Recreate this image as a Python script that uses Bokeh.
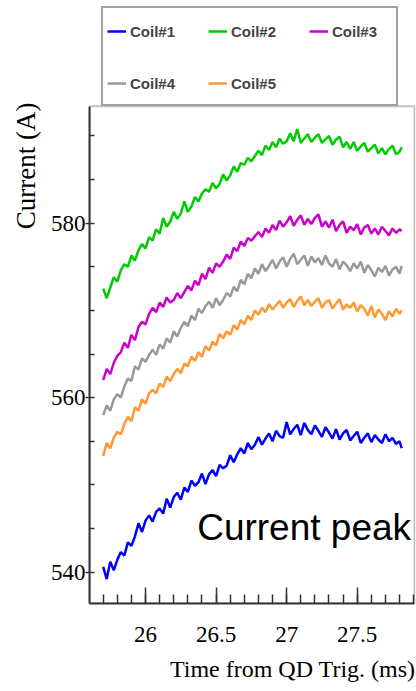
from bokeh.plotting import figure
from bokeh.models import Range1d, FixedTicker, Legend, LegendItem, Label, BoxAnnotation, Title
from bokeh.embed import file_html
from bokeh.resources import INLINE

# ---------------- data ----------------
time_ms = [25.700, 25.725, 25.750, 25.775, 25.800, 25.825, 25.850, 25.875, 25.900, 25.925,
           25.950, 25.975, 26.000, 26.025, 26.050, 26.075, 26.100, 26.125, 26.150, 26.175,
           26.200, 26.225, 26.250, 26.275, 26.300, 26.325, 26.350, 26.375, 26.400, 26.425,
           26.450, 26.475, 26.500, 26.525, 26.550, 26.575, 26.600, 26.625, 26.650, 26.675,
           26.700, 26.725, 26.750, 26.775, 26.800, 26.825, 26.850, 26.875, 26.900, 26.925,
           26.950, 26.975, 27.000, 27.025, 27.050, 27.075, 27.100, 27.125, 27.150, 27.175,
           27.200, 27.225, 27.250, 27.275, 27.300, 27.325, 27.350, 27.375, 27.400, 27.425,
           27.450, 27.475, 27.500, 27.525, 27.550, 27.575, 27.600, 27.625, 27.650, 27.675,
           27.700, 27.725, 27.750, 27.775, 27.800, 27.815]

coil1 = [540.6, 539.2, 541.2, 540.2, 541.4, 542.3, 541.9, 543.4, 543.0, 544.1,
         545.6, 544.6, 545.9, 546.5, 545.8, 546.9, 547.3, 546.7, 548.4, 547.4,
         548.6, 549.1, 548.3, 549.7, 549.2, 550.5, 549.9, 550.3, 551.3, 550.1,
         551.2, 551.7, 551.0, 552.3, 551.9, 552.2, 553.4, 552.6, 553.5, 554.2,
         553.6, 554.8, 554.1, 554.6, 555.5, 554.6, 555.3, 555.9, 555.0, 556.2,
         555.6, 555.4, 557.2, 555.8, 556.4, 556.9, 555.7, 557.1, 556.3, 555.8,
         556.8, 556.2, 555.5, 556.6, 556.0, 555.3, 556.4, 555.2, 555.9, 556.3,
         555.1, 555.6, 556.1, 554.8, 555.4, 555.9, 554.9, 555.7, 555.2, 554.8,
         555.8, 555.0, 555.4, 554.7, 555.0, 554.2]

coil2 = [572.5, 571.4, 572.6, 573.8, 573.3, 574.6, 575.3, 575.0, 576.3, 575.7,
         576.9, 577.6, 577.1, 578.4, 578.0, 579.3, 578.8, 580.6, 579.6, 580.2,
         581.3, 580.5, 581.1, 582.5, 581.3, 581.9, 583.0, 582.5, 583.4, 583.9,
         583.6, 584.6, 584.0, 584.5, 585.6, 584.9, 585.5, 586.5, 585.9, 586.9,
         586.7, 587.5, 587.1, 587.7, 588.3, 587.8, 588.9, 588.4, 589.3, 588.7,
         589.7, 589.1, 589.4, 590.3, 589.4, 590.8, 589.2, 589.7, 590.2, 589.3,
         589.8, 590.2, 589.2, 589.6, 590.0, 589.0, 589.6, 589.9, 588.7, 589.3,
         588.5, 589.3, 588.3, 588.8, 589.2, 588.2, 588.6, 589.0, 588.0, 588.6,
         587.9, 588.5, 588.9, 587.9, 588.2, 588.7]

coil3 = [562.0, 563.3, 562.7, 564.0, 564.8, 565.2, 566.3, 565.7, 567.2, 566.6,
         568.1, 568.7, 568.4, 569.6, 570.3, 569.8, 570.9, 570.4, 571.5, 570.9,
         571.2, 572.0, 571.4, 572.1, 572.8, 572.3, 573.4, 572.9, 574.2, 573.6,
         574.9, 574.3, 575.4, 575.0, 575.6, 576.4, 575.9, 577.2, 576.8, 577.9,
         577.4, 578.3, 578.0, 578.5, 579.0, 578.4, 579.4, 578.9, 579.8, 579.2,
         580.3, 579.6, 580.1, 580.8, 579.7, 580.4, 580.9, 579.8, 580.5, 579.9,
         580.6, 581.0, 579.6, 580.2, 579.5, 580.4, 579.1, 579.8, 580.2, 578.9,
         579.6, 579.2, 579.9, 578.7, 579.5, 579.8, 578.8, 579.4, 578.7, 579.6,
         579.1, 578.6, 579.4, 578.9, 579.3, 579.1]

coil4 = [558.0, 559.1, 558.5, 559.8, 560.4, 560.0, 561.3, 562.2, 561.9, 563.6,
         563.2, 564.5, 564.1, 564.9, 565.5, 564.9, 566.1, 565.6, 566.8, 566.3,
         567.6, 567.0, 568.0, 568.7, 568.2, 569.4, 568.9, 570.2, 569.7, 570.5,
         571.0, 570.3, 571.4, 570.6, 571.2, 572.0, 571.6, 572.7, 572.2, 573.5,
         573.0, 574.2, 573.7, 574.8, 574.2, 575.3, 574.5, 575.1, 575.8, 574.8,
         575.6, 576.1, 575.0, 575.9, 576.5, 575.3, 575.8, 576.3, 575.1, 576.2,
         575.5, 576.0, 575.2, 576.3, 575.4, 575.0, 575.9, 574.7, 575.6, 575.2,
         574.5, 575.4, 574.8, 575.6, 574.3, 575.2, 574.6, 573.9, 574.9, 574.4,
         575.1, 574.0, 574.7, 575.0, 574.2, 575.1]

coil5 = [553.3, 554.8, 554.2, 555.4, 556.1, 555.8, 557.0, 557.8, 557.3, 558.9,
         558.5, 559.8, 559.3, 560.5, 560.9, 560.5, 561.6, 561.2, 562.4, 561.9,
         562.7, 563.3, 562.8, 563.9, 563.6, 564.7, 564.2, 565.2, 564.7, 565.9,
         565.4, 566.4, 566.0, 567.3, 566.8, 567.6, 567.2, 568.3, 567.8, 568.9,
         568.4, 569.4, 568.9, 570.0, 569.5, 570.3, 569.8, 570.7, 570.1, 570.6,
         571.1, 570.3, 570.9, 571.3, 570.4, 571.1, 571.6, 570.6, 571.2, 570.5,
         571.0, 571.4, 570.3, 570.9, 571.2, 570.2, 570.8, 571.3, 570.1, 570.7,
         570.3, 570.9, 569.9, 570.6, 570.2, 569.4, 570.5, 569.2, 570.1, 569.6,
         568.9, 569.9, 569.3, 570.2, 569.6, 570.0]

series_names = ["Coil#1", "Coil#2", "Coil#3", "Coil#4", "Coil#5"]
series_values = [coil1, coil2, coil3, coil4, coil5]
series_colors = ["#0000ff", "#00cc00", "#cc00cc", "#999999", "#ff9933"]

x_major_ticks = [26.0, 26.5, 27.0, 27.5]
x_tick_labels = ["26", "26.5", "27", "27.5"]
x_minor_ticks = [25.6, 25.7, 25.8, 25.9, 26.0, 26.1, 26.2, 26.3, 26.4, 26.5, 26.6, 26.7,
                 26.8, 26.9, 27.0, 27.1, 27.2, 27.3, 27.4, 27.5, 27.6, 27.7, 27.8, 27.9]
y_major_ticks = [540, 560, 580]
y_minor_ticks = [540, 545, 550, 555, 560, 565, 570, 575, 580, 585, 590]

x_title = "Time from QD Trig. (ms)"
y_title = "Current (A)"
note_text = "Current peak"
note_x = 26.366
note_y = 545.1

# axes extents of the plotted box (the space above it holds the legend)
x_lo, x_hi = 25.603, 27.906
y_lo, y_hi = 536.4, 593.4
y_canvas_top = 605.53
x_canvas_right = 27.913

# ---------------- figure ----------------
p = figure(width=416, height=691, output_backend="svg", toolbar_location=None,
           x_range=Range1d(x_lo, x_canvas_right), y_range=Range1d(y_lo, y_canvas_top),
           min_border_left=89, min_border_right=1, min_border_top=0, min_border_bottom=88)
p.background_fill_color = "white"
p.border_fill_color = "white"
p.xgrid.visible = False
p.ygrid.visible = False
p.outline_line_color = None

renderers = []
for name, vals, col in zip(series_names, series_values, series_colors):
    r = p.line(time_ms, vals, line_color=col, line_width=2.5)
    renderers.append(r)

box = BoxAnnotation(left=x_lo, right=x_hi, bottom=y_lo, top=y_hi,
                    fill_alpha=0, line_color="#333333", line_width=2)
p.add_layout(box)

serif = "Liberation Serif"

xa = p.xaxis[0]
xa.bounds = (x_lo, x_hi)
xa.ticker = FixedTicker(ticks=x_major_ticks, minor_ticks=x_minor_ticks)
xa.major_label_overrides = {t: s for t, s in zip(x_major_ticks, x_tick_labels)}
xa.major_label_text_font = serif
xa.major_label_text_font_size = "23px"
xa.major_label_text_color = "black"
xa.major_label_standoff = 23
xa.major_tick_in = 16
xa.major_tick_out = 0
xa.minor_tick_in = 9
xa.minor_tick_out = 0
xa.axis_line_color = "#333333"
xa.axis_line_width = 2
xa.major_tick_line_color = "#333333"
xa.minor_tick_line_color = "#333333"
xa.major_tick_line_width = 1.5
xa.minor_tick_line_width = 1.5

ya = p.yaxis[0]
ya.bounds = (y_lo, y_hi)
ya.ticker = FixedTicker(ticks=y_major_ticks, minor_ticks=y_minor_ticks)
ya.major_label_text_font = serif
ya.major_label_text_font_size = "23px"
ya.major_label_text_color = "black"
ya.major_label_standoff = 0
ya.major_tick_in = 0
ya.major_tick_out = 4
ya.minor_tick_in = 5
ya.minor_tick_out = 0
ya.axis_line_color = "#333333"
ya.axis_line_width = 2
ya.major_tick_line_color = "#333333"
ya.minor_tick_line_color = "#333333"
ya.major_tick_line_width = 1.5
ya.minor_tick_line_width = 1.5

# axis titles (right/top aligned, ROOT style)
xt = Title(text=x_title, align="right", text_font=serif, text_font_size="24px",
           text_font_style="normal", text_color="black", offset=0, standoff=19)
p.add_layout(xt, "below")
yt = Title(text=y_title, align="right", text_font=serif, text_font_size="27px",
           text_font_style="normal", text_color="black", offset=102, standoff=14)
p.add_layout(yt, "left")

legend = Legend(items=[LegendItem(label=n, renderers=[r]) for n, r in zip(series_names, renderers)],
                location=(12, 497), orientation="horizontal", ncols=3,
                title=" ", title_text_font_size="2px", title_standoff=0,
                padding=4, spacing=18, margin=0,
                glyph_width=19, glyph_height=34, label_height=34, label_width=60,
                label_standoff=4,
                label_text_font="Liberation Sans", label_text_font_style="bold",
                label_text_font_size="15px",
                border_line_color="#444444", border_line_width=2,
                background_fill_color="white", background_fill_alpha=1.0)
p.add_layout(legend, "center")

note = Label(x=note_x, y=note_y, text=note_text, text_font="Liberation Sans",
             text_font_size="37px", text_color="black", text_baseline="alphabetic",
             text_align="left")
p.add_layout(note)

open("out.html", "w").write(file_html(p, INLINE))
